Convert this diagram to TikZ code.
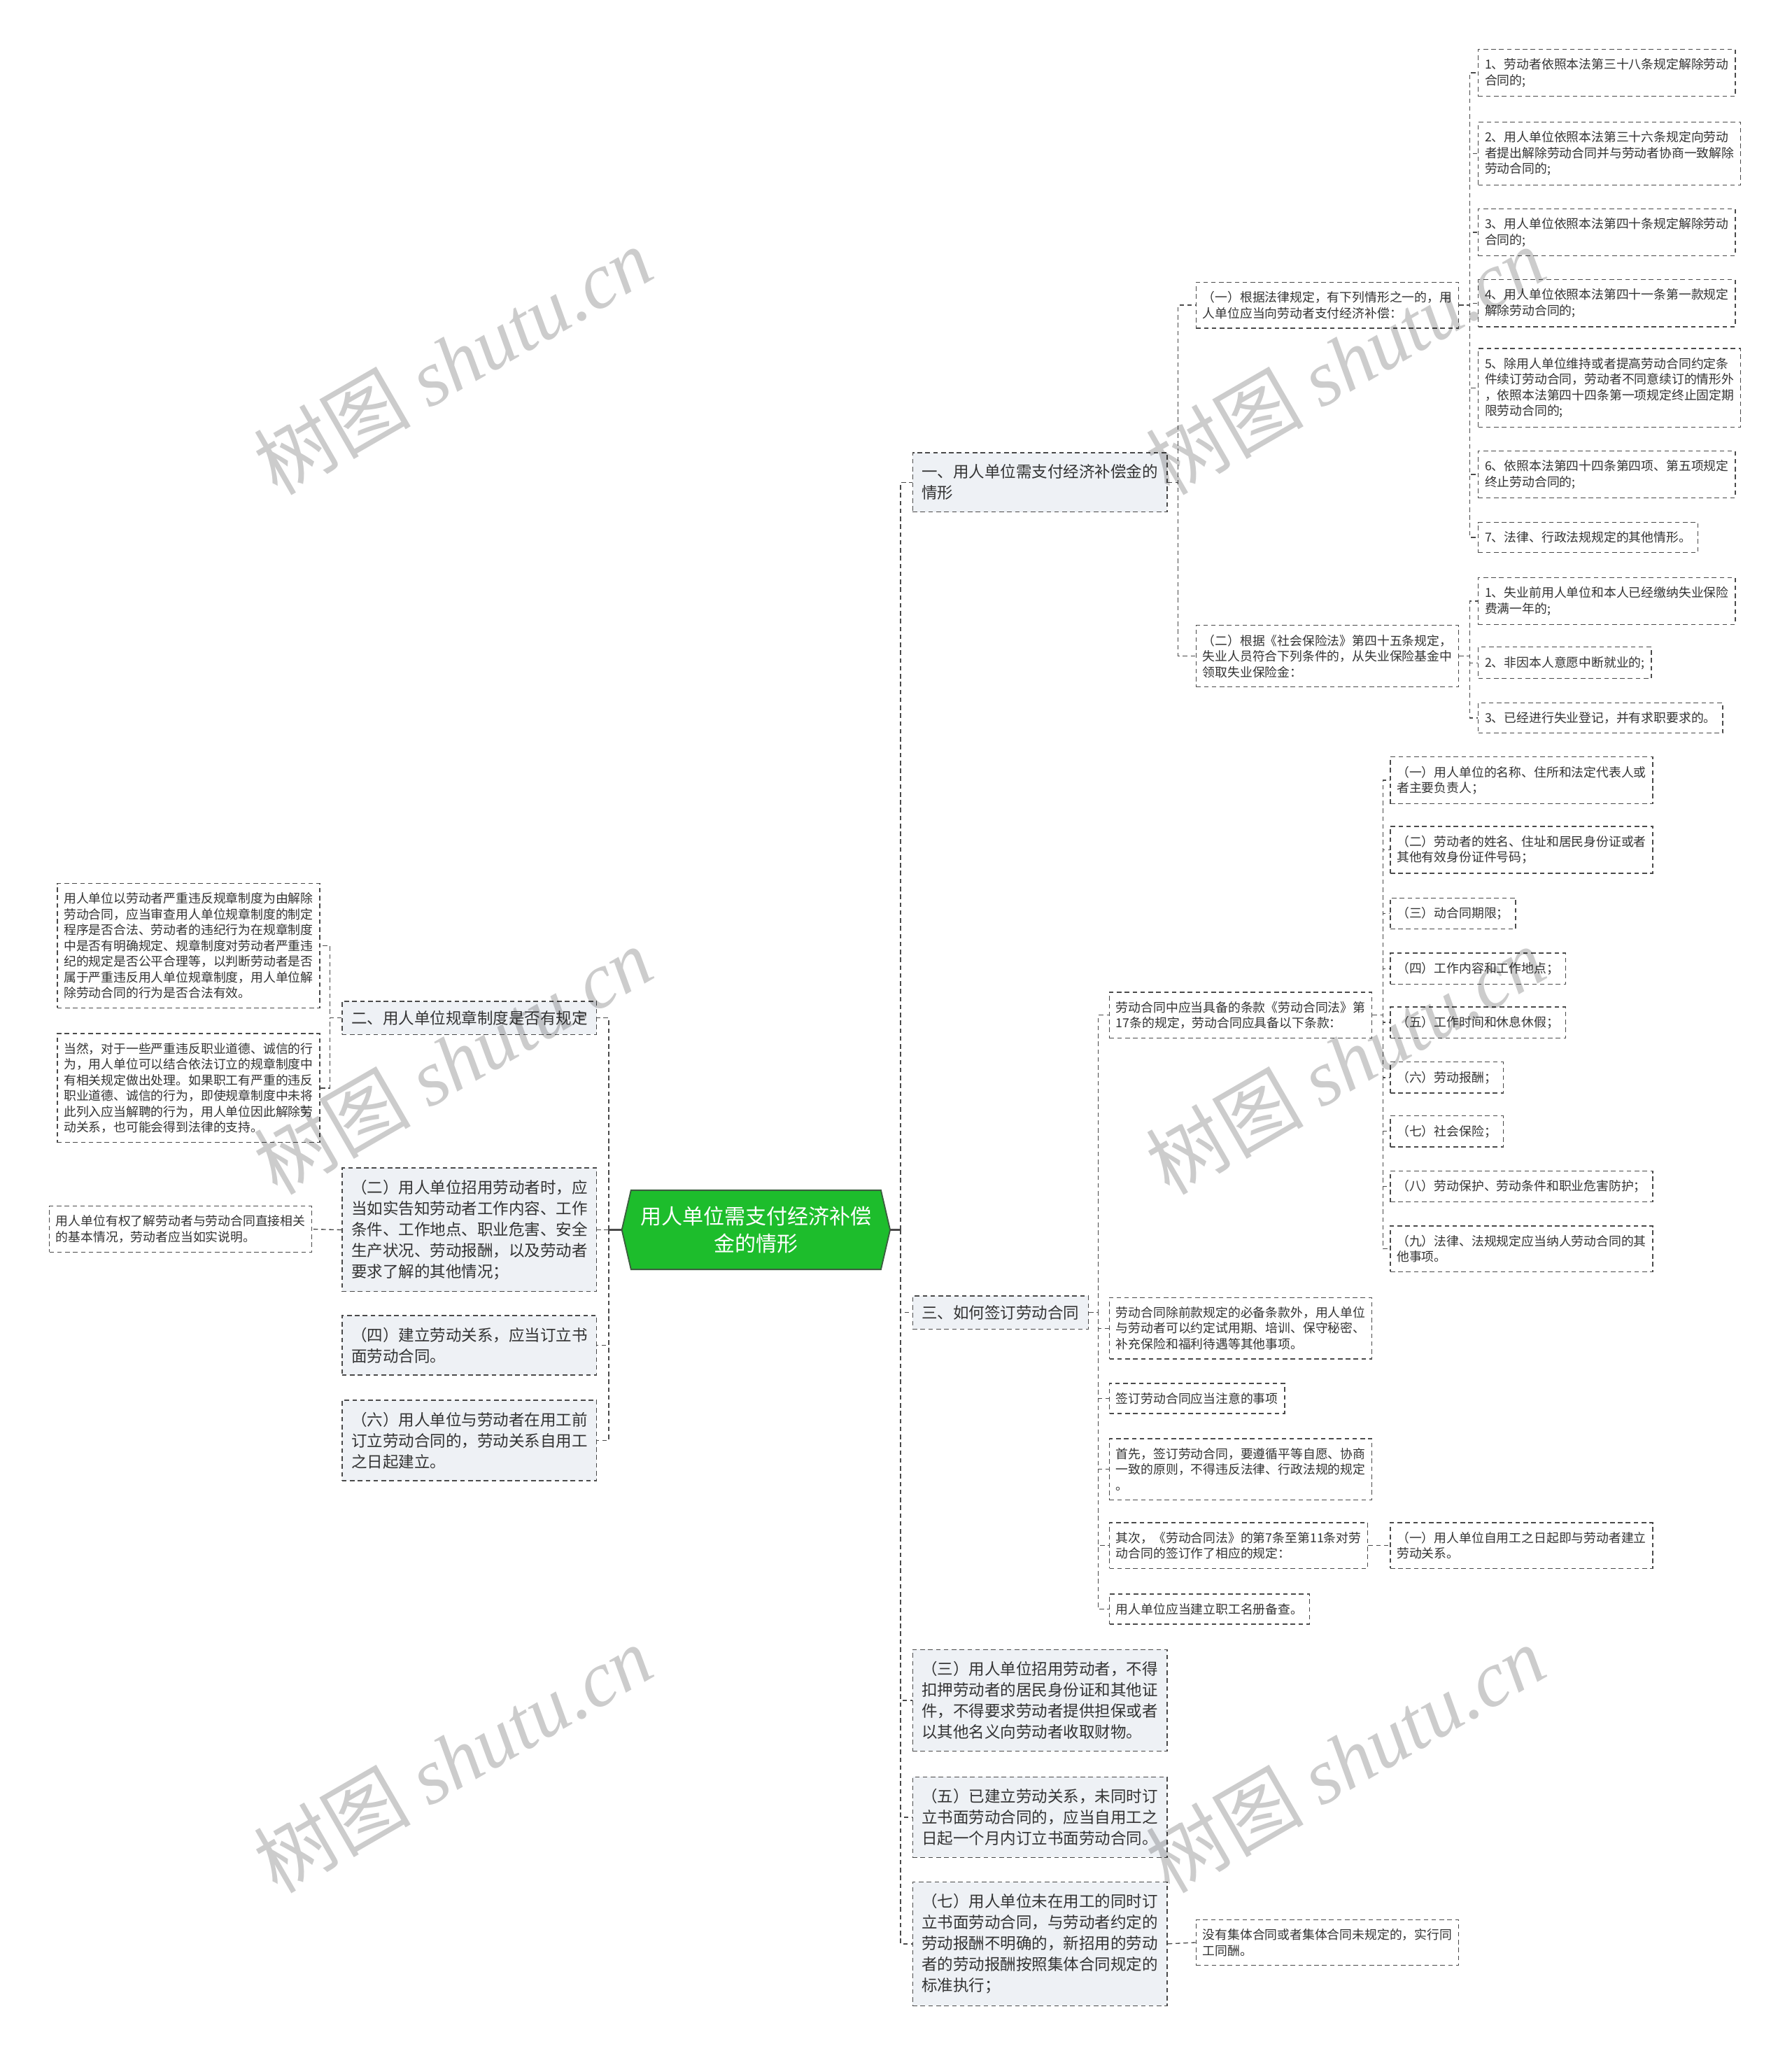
\documentclass[tikz,border=0pt]{standalone}
\usepackage{fontspec}
\setmainfont{Noto Sans CJK SC}
\newfontfamily\wmserif{Liberation Serif}
\usetikzlibrary{calc}
\pgfdeclarelayer{bg}
\pgfsetlayers{bg,main}
\definecolor{txt}{HTML}{333333}
\definecolor{bord}{HTML}{4A4A4A}
\definecolor{lvl}{HTML}{EEF1F5}
\definecolor{rootg}{HTML}{1DBD2C}
\definecolor{rootb}{HTML}{3B5E3E}
\tikzset{
  box/.style={draw=bord, dash pattern=on 3.5pt off 2.5pt, line width=0.7pt, align=left, text=txt, fill=white},
  small/.style={box, font=\fontsize{9.5}{12}\selectfont, inner xsep=5pt, inner ysep=7pt},
  big/.style={box, fill=lvl, font=\fontsize{12}{16}\selectfont, inner xsep=7pt, inner ysep=9pt},
  conn/.style={draw=bord, line width=0.7pt, dash pattern=on 3.5pt off 2.5pt},
  rootline/.style={draw=bord, line width=1.3pt},
  wm/.style={rotate=30, text=black, text opacity=0.2, font=\fontsize{60}{60}\selectfont}
}
\begin{document}
\begin{tikzpicture}[x=1pt, y=-1pt]
\useasboundingbox (0,0) rectangle (1365,1568);
\begin{pgfonlayer}{bg}
\fill[white] (0,0) rectangle (1365,1568);
\end{pgfonlayer}

% root
\node[font=\fontsize{16}{21}\selectfont, text=white, align=center, minimum width=204pt, minimum height=60pt, inner sep=0pt] (root) at (576,937) {用人单位需支付经济补偿\\金的情形};
\begin{pgfonlayer}{bg}
\filldraw[fill=rootg, draw=rootb, line width=1pt] (root.west) -- ([xshift=7pt]root.north west) -- ([xshift=-7pt]root.north east) -- (root.east) -- ([xshift=-7pt]root.south east) -- ([xshift=7pt]root.south west) -- cycle;
\end{pgfonlayer}

% right level 1
\node[big, anchor=west] (a1) at (695,367.5) {一、用人单位需支付经济补偿金的\\情形};
\node[big, anchor=west, inner ysep=7pt] (a3) at (695,1000) {三、如何签订劳动合同};
\node[big, anchor=west] (r3) at (695,1295.5) {（三）用人单位招用劳动者，不得\\扣押劳动者的居民身份证和其他证\\件，不得要求劳动者提供担保或者\\以其他名义向劳动者收取财物。};
\node[big, anchor=west] (r5) at (695,1384.5) {（五）已建立劳动关系，未同时订\\立书面劳动合同的，应当自用工之\\日起一个月内订立书面劳动合同。};
\node[big, anchor=west] (r7) at (695,1481) {（七）用人单位未在用工的同时订\\立书面劳动合同，与劳动者约定的\\劳动报酬不明确的，新招用的劳动\\者的劳动报酬按照集体合同规定的\\标准执行；};
\node[small, anchor=west] (r7c) at (911,1480) {没有集体合同或者集体合同未规定的，实行同\\工同酬。};

% left level 1
\node[big, anchor=east, inner ysep=7pt] (l2) at (455,775.5) {二、用人单位规章制度是否有规定};
\node[big, anchor=east] (lb) at (455,937) {（二）用人单位招用劳动者时，应\\当如实告知劳动者工作内容、工作\\条件、工作地点、职业危害、安全\\生产状况、劳动报酬，以及劳动者\\要求了解的其他情况；};
\node[big, anchor=east] (ld) at (455,1025) {（四）建立劳动关系，应当订立书\\面劳动合同。};
\node[big, anchor=east] (lf) at (455,1097.5) {（六）用人单位与劳动者在用工前\\订立劳动合同的，劳动关系自用工\\之日起建立。};

% left level 2
\node[small, anchor=east] (l2a) at (244,720.5) {用人单位以劳动者严重违反规章制度为由解除\\劳动合同，应当审查用人单位规章制度的制定\\程序是否合法、劳动者的违纪行为在规章制度\\中是否有明确规定、规章制度对劳动者严重违\\纪的规定是否公平合理等，以判断劳动者是否\\属于严重违反用人单位规章制度，用人单位解\\除劳动合同的行为是否合法有效。};
\node[small, anchor=east] (l2b) at (244,829) {当然，对于一些严重违反职业道德、诚信的行\\为，用人单位可以结合依法订立的规章制度中\\有相关规定做出处理。如果职工有严重的违反\\职业道德、诚信的行为，即使规章制度中未将\\此列入应当解聘的行为，用人单位因此解除劳\\动关系，也可能会得到法律的支持。};
\node[small, anchor=east] (lbc) at (238,936.5) {用人单位有权了解劳动者与劳动合同直接相关\\的基本情况，劳动者应当如实说明。};

% under a1
\node[small, anchor=west] (b1) at (911,232.5) {（一）根据法律规定，有下列情形之一的，用\\人单位应当向劳动者支付经济补偿：};
\node[small, anchor=west] (b2) at (911,500) {（二）根据《社会保险法》第四十五条规定，\\失业人员符合下列条件的，从失业保险基金中\\领取失业保险金：};

\node[small, anchor=west] (c1) at (1126,55.5) {1、劳动者依照本法第三十八条规定解除劳动\\合同的;};
\node[small, anchor=west] (c2) at (1126,117) {2、用人单位依照本法第三十六条规定向劳动\\者提出解除劳动合同并与劳动者协商一致解除\\劳动合同的;};
\node[small, anchor=west] (c3) at (1126,177) {3、用人单位依照本法第四十条规定解除劳动\\合同的;};
\node[small, anchor=west] (c4) at (1126,231) {4、用人单位依照本法第四十一条第一款规定\\解除劳动合同的;};
\node[small, anchor=west] (c5) at (1126,295.5) {5、除用人单位维持或者提高劳动合同约定条\\件续订劳动合同，劳动者不同意续订的情形外\\，依照本法第四十四条第一项规定终止固定期\\限劳动合同的;};
\node[small, anchor=west] (c6) at (1126,361.5) {6、依照本法第四十四条第四项、第五项规定\\终止劳动合同的;};
\node[small, anchor=west] (c7) at (1126,409.5) {7、法律、行政法规规定的其他情形。};

\node[small, anchor=west] (d1) at (1126,458) {1、失业前用人单位和本人已经缴纳失业保险\\费满一年的;};
\node[small, anchor=west] (d2) at (1126,505) {2、非因本人意愿中断就业的;};
\node[small, anchor=west] (d3) at (1126,547) {3、已经进行失业登记，并有求职要求的。};

% under a3
\node[small, anchor=west] (e1) at (845,773.5) {劳动合同中应当具备的条款《劳动合同法》第\\17条的规定，劳动合同应具备以下条款：};
\node[small, anchor=west] (e2) at (845,1012) {劳动合同除前款规定的必备条款外，用人单位\\与劳动者可以约定试用期、培训、保守秘密、\\补充保险和福利待遇等其他事项。};
\node[small, anchor=west] (e3) at (845,1065.5) {签订劳动合同应当注意的事项};
\node[small, anchor=west] (e4) at (845,1119.5) {首先，签订劳动合同，要遵循平等自愿、协商\\一致的原则，不得违反法律、行政法规的规定\\。};
\node[small, anchor=west] (e5) at (845,1177.5) {其次，《劳动合同法》的第7条至第11条对劳\\动合同的签订作了相应的规定：};
\node[small, anchor=west] (e6) at (845,1226) {用人单位应当建立职工名册备查。};

\node[small, anchor=west] (g1) at (1059,1177.5) {（一）用人单位自用工之日起即与劳动者建立\\劳动关系。};

\node[small, anchor=west] (f1) at (1059,594.5) {（一）用人单位的名称、住所和法定代表人或\\者主要负责人；};
\node[small, anchor=west] (f2) at (1059,647.5) {（二）劳动者的姓名、住址和居民身份证或者\\其他有效身份证件号码；};
\node[small, anchor=west] (f3) at (1059,696) {（三）动合同期限；};
\node[small, anchor=west] (f4) at (1059,738) {（四）工作内容和工作地点；};
\node[small, anchor=west] (f5) at (1059,779) {（五）工作时间和休息休假；};
\node[small, anchor=west] (f6) at (1059,821) {（六）劳动报酬；};
\node[small, anchor=west] (f7) at (1059,862) {（七）社会保险；};
\node[small, anchor=west] (f8) at (1059,904) {（八）劳动保护、劳动条件和职业危害防护；};
\node[small, anchor=west] (f9) at (1059,951.5) {（九）法律、法规规定应当纳人劳动合同的其\\他事项。};

% connectors
\draw[rootline] (root.east) -- ++(8,0);
\foreach \c in {a1,a3,r3,r5,r7} \draw[conn] (root.east) ++(8,0) |- (\c.west);
\draw[rootline] (root.west) -- ++(-10,0);
\foreach \c in {l2,lb,ld,lf} \draw[conn] (root.west) ++(-10,0) |- (\c.east);

\foreach \c in {b1,b2} \draw[conn] (a1.east) -- ++(8,0) |- (\c.west);
\foreach \c in {c1,c2,c3,c4,c5,c6,c7} \draw[conn] (b1.east) -- ++(8,0) |- (\c.west);
\foreach \c in {d1,d2,d3} \draw[conn] (b2.east) -- ++(8,0) |- (\c.west);
\foreach \c in {e1,e2,e3,e4,e5,e6} \draw[conn] (a3.east) -- ++(7,0) |- (\c.west);
\foreach \c in {f1,f2,f3,f4,f5,f6,f7,f8,f9} \draw[conn] (e1.east) -- ++(8,0) |- (\c.west);
\draw[conn] (e5.east) -- (g1.west);
\draw[conn] (r7.east) -- (r7c.west);
\foreach \c in {l2a,l2b} \draw[conn] (l2.west) -- ++(-9,0) |- (\c.east);
\draw[conn] (lb.west) -- (lbc.east);

% watermarks
\foreach \i/\px/\py in {1/345/275, 2/1025/275, 3/345/808, 4/1025/808, 5/345/1340, 6/1025/1340}
  \node[wm] (wm\i) at (\px,\py) {树图 {\wmserif\itshape shutu.cn}};
\end{tikzpicture}
\end{document}
